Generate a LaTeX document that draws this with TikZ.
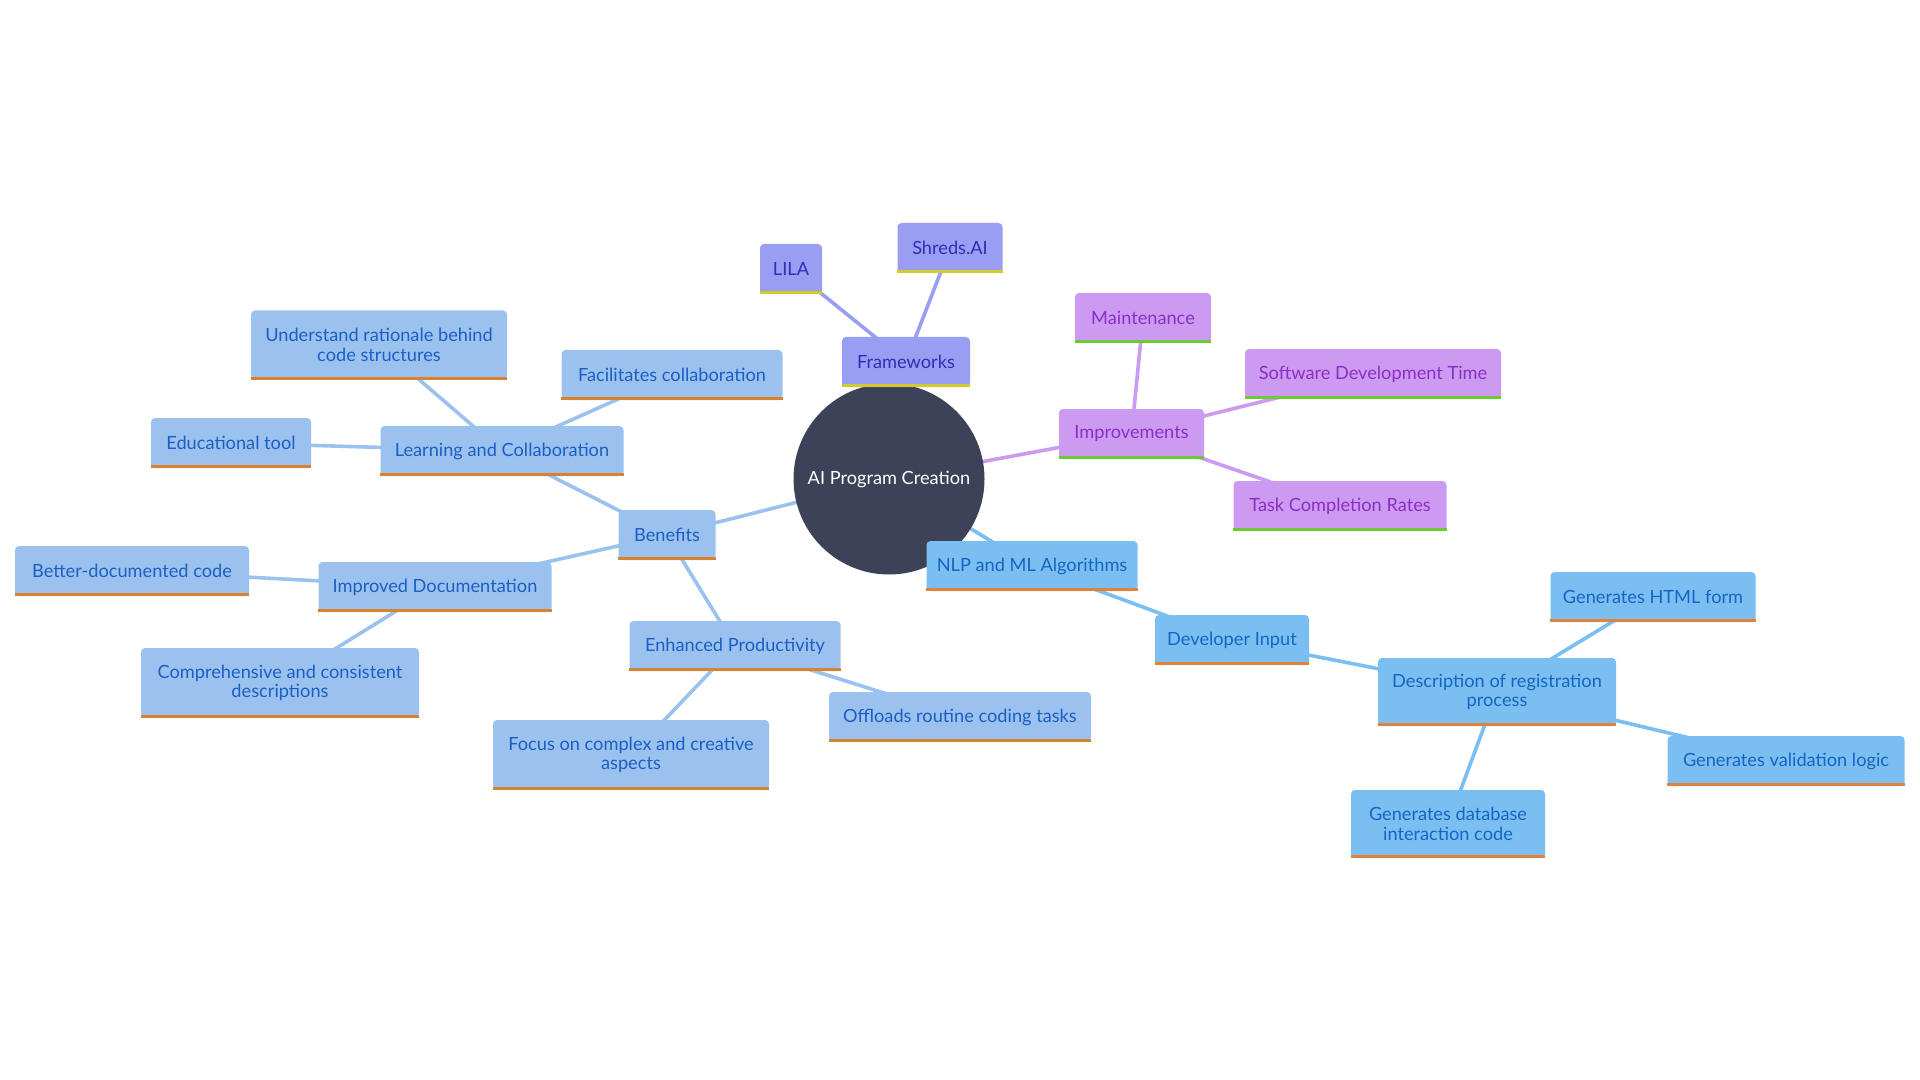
\documentclass[tikz,border=0pt]{standalone}
\usepackage{fontspec}
\setmainfont{Lato}
\definecolor{bfill}{HTML}{9BC2EF}
\definecolor{btext}{HTML}{1C5EC4}
\definecolor{bline}{HTML}{D6822E}
\definecolor{nfill}{HTML}{7BBEF2}
\definecolor{ntext}{HTML}{1566C2}
\definecolor{nline}{HTML}{E0823A}
\definecolor{ffill}{HTML}{9A9EF2}
\definecolor{ftext}{HTML}{2F2FB5}
\definecolor{fline}{HTML}{D3CB2C}
\definecolor{ifill}{HTML}{CD9AF2}
\definecolor{itext}{HTML}{8A2FC4}
\definecolor{iline}{HTML}{6BCB30}
\definecolor{cfill}{HTML}{3E4259}
\pgfdeclarelayer{bg}
\pgfsetlayers{bg,main}
\newcommand\mmbox[8]{%
  \node[#1box, minimum width=#5, minimum height=#6] (#2) at (#3,#4) {#8};
  \draw[#1bar] (#2.south west) ++(0,0.8pt) -- ([yshift=0.8pt]#2.south east);
  #7}
\begin{document}
\begin{tikzpicture}[x=0.5pt,y=-0.5pt,
  basebox/.style={rectangle, rounded corners=2pt, inner xsep=3pt, inner ysep=2pt,
    align=center, font=\fontsize{9.1}{9.8}\selectfont},
  bbox/.style={basebox, fill=bfill, text=btext},
  nbox/.style={basebox, fill=nfill, text=ntext},
  fbox/.style={basebox, fill=ffill, text=ftext},
  ibox/.style={basebox, fill=ifill, text=itext},
  bbar/.style={draw=bline, line width=1.6pt},
  nbar/.style={draw=nline, line width=1.6pt},
  fbar/.style={draw=fline, line width=1.6pt},
  ibar/.style={draw=iline, line width=1.6pt},
  bedge/.style={draw=bfill, line width=1.8pt},
  nedge/.style={draw=nfill, line width=1.8pt},
  fedge/.style={draw=ffill, line width=1.8pt},
  iedge/.style={draw=ifill, line width=1.8pt},
  hub/.style={circle, fill=cfill, text=white, minimum size=95.5pt, inner sep=0pt,
    font=\fontsize{9.1}{9.8}\selectfont}]
\useasboundingbox (0,0) rectangle (1920,1080);

\node[hub] (c) at (889,479) {AI Program Creation};

% Frameworks branch
\mmbox{f}{fw}{906}{362}{64pt}{25pt}{}{Frameworks}
\mmbox{f}{lila}{791}{269}{31pt}{25pt}{}{LILA}
\mmbox{f}{shreds}{950}{248}{52.5pt}{25pt}{}{Shreds.AI}

% Improvements branch
\mmbox{i}{imp}{1131.5}{434}{72.5pt}{25pt}{}{Improvements}
\mmbox{i}{maint}{1143}{318}{68pt}{25pt}{}{Maintenance}
\mmbox{i}{sdt}{1373}{374}{128pt}{25pt}{}{Software Development Time}
\mmbox{i}{tcr}{1340}{506}{106.5pt}{25pt}{}{Task Completion Rates}

% NLP branch
\mmbox{n}{nlp}{1032}{566}{105.5pt}{25pt}{}{NLP and ML Algorithms}
\mmbox{n}{dev}{1232}{640}{77pt}{25pt}{}{Developer Input}
\mmbox{n}{desc}{1497}{692}{119pt}{34pt}{}{Description of registration\\process}
\mmbox{n}{html}{1653}{597}{102.5pt}{25pt}{}{Generates HTML form}
\mmbox{n}{valid}{1786}{761}{118.5pt}{25pt}{}{Generates validation logic}
\mmbox{n}{db}{1448}{824}{97pt}{34pt}{}{Generates database\\interaction code}

% Benefits branch
\mmbox{b}{ben}{667}{535}{48.5pt}{25pt}{}{Benefits}
\mmbox{b}{lc}{502}{451}{121.5pt}{25pt}{}{Learning and Collaboration}
\mmbox{b}{und}{379}{345}{128pt}{34.5pt}{}{Understand rationale behind\\code structures}
\mmbox{b}{fac}{672}{375}{110.5pt}{25pt}{}{Facilitates collaboration}
\mmbox{b}{edu}{231}{443}{80pt}{25pt}{}{Educational tool}
\mmbox{b}{idoc}{435}{587}{116.5pt}{25pt}{}{Improved Documentation}
\mmbox{b}{better}{132}{571}{117pt}{25pt}{}{Better-documented code}
\mmbox{b}{comp}{280}{683}{139pt}{35pt}{}{Comprehensive and consistent\\descriptions}
\mmbox{b}{enh}{735}{646}{105.5pt}{25pt}{}{Enhanced Productivity}
\mmbox{b}{focus}{631}{755}{138pt}{35pt}{}{Focus on complex and creative\\aspects}
\mmbox{b}{off}{960}{717}{131pt}{25pt}{}{Offloads routine coding tasks}

\begin{pgfonlayer}{bg}
  \fill[white] (0,0) rectangle (1920,1080);
  \draw[fedge] (c.center) -- (fw.center);
  \draw[fedge] (fw.center) -- (lila.center);
  \draw[fedge] (fw.center) -- (shreds.center);
  \draw[iedge] (c.center) -- (imp.center);
  \draw[iedge] (imp.center) -- (maint.center);
  \draw[iedge] (imp.center) -- (sdt.center);
  \draw[iedge] (imp.center) -- (tcr.center);
  \draw[nedge] (c.center) -- (nlp.center);
  \draw[nedge] (nlp.center) -- (dev.center);
  \draw[nedge] (dev.center) -- (desc.center);
  \draw[nedge] (desc.center) -- (html.center);
  \draw[nedge] (desc.center) -- (valid.center);
  \draw[nedge] (desc.center) -- (db.center);
  \draw[bedge] (c.center) -- (ben.center);
  \draw[bedge] (ben.center) -- (lc.center);
  \draw[bedge] (lc.center) -- (und.center);
  \draw[bedge] (lc.center) -- (fac.center);
  \draw[bedge] (lc.center) -- (edu.center);
  \draw[bedge] (ben.center) -- (idoc.center);
  \draw[bedge] (idoc.center) -- (better.center);
  \draw[bedge] (idoc.center) -- (comp.center);
  \draw[bedge] (ben.center) -- (enh.center);
  \draw[bedge] (enh.center) -- (focus.center);
  \draw[bedge] (enh.center) -- (off.center);
\end{pgfonlayer}
\end{tikzpicture}
\end{document}
